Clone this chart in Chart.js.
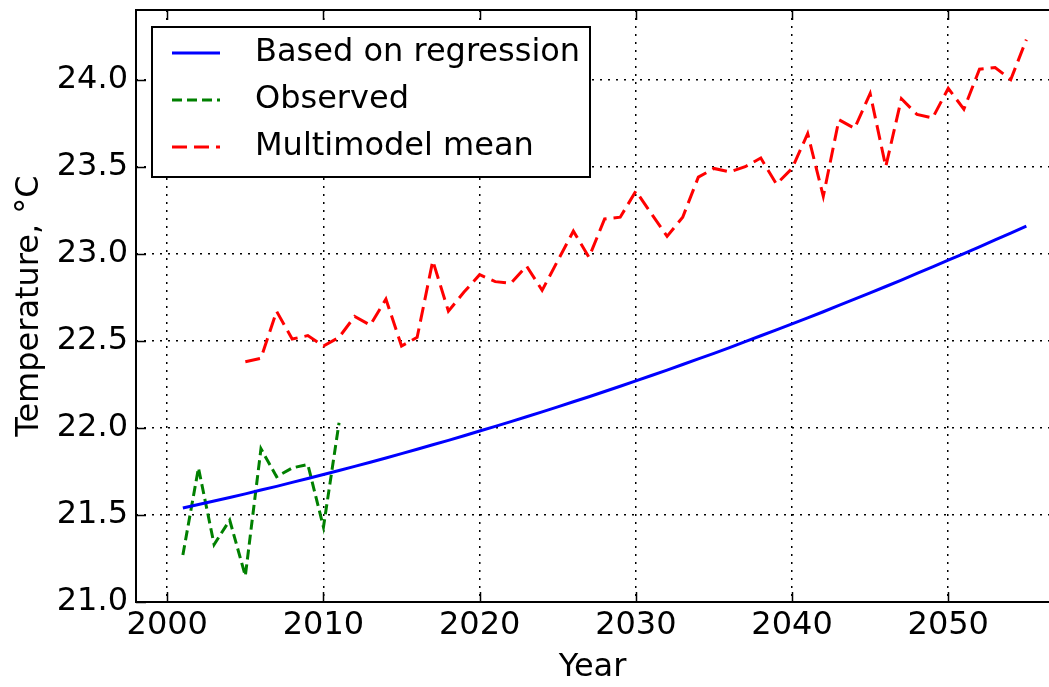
<!DOCTYPE html>
<html>
<head>
<meta charset="utf-8">
<script src="https://cdn.jsdelivr.net/npm/chart.js@4.4.1/dist/chart.umd.min.js"></script>
<style>
  html, body { margin: 0; padding: 0; background: #fff; }
  #wrap { width: 1049px; height: 687px; }
</style>
</head>
<body>
<div id="wrap"><canvas id="chart"></canvas></div>
<script>
// Year ticks and temperature ticks
const xTicks = [2000, 2010, 2020, 2030, 2040, 2050];
const yTicks = [21.0, 21.5, 22.0, 22.5, 23.0, 23.5, 24.0];

// Regression curve, 2001-2055
const regStart = 2001;
const regValues = [
    21.540, 21.560, 21.580, 21.600, 21.621, 21.643, 21.664, 21.687, 21.709, 21.732,
    21.755, 21.779, 21.803, 21.827, 21.852, 21.877, 21.903, 21.928, 21.955, 21.982,
    22.009, 22.036, 22.064, 22.092, 22.121, 22.150, 22.179, 22.209, 22.239, 22.270,
    22.301, 22.332, 22.364, 22.396, 22.428, 22.461, 22.495, 22.529, 22.563, 22.597,
    22.632, 22.667, 22.703, 22.739, 22.775, 22.812, 22.849, 22.887, 22.925, 22.963,
    23.001, 23.040, 23.080, 23.119, 23.159
];

// Observed, 2001-2011
const obsStart = 2001;
const obsValues = [21.27, 21.77, 21.33, 21.47, 21.15, 21.88, 21.72, 21.77, 21.79, 21.43, 22.03];

// Multimodel mean, 2005-2055
const mmmStart = 2005;
const mmmValues = [
    22.38, 22.40, 22.67, 22.51, 22.53, 22.47, 22.52, 22.64, 22.59, 22.74,
    22.47, 22.52, 22.96, 22.67, 22.78, 22.88, 22.84, 22.83, 22.93, 22.79,
    22.96, 23.13, 22.98, 23.20, 23.21, 23.36, 23.23, 23.10, 23.21, 23.44,
    23.49, 23.47, 23.50, 23.55, 23.40, 23.49, 23.69, 23.33, 23.77, 23.72,
    23.92, 23.50, 23.89, 23.80, 23.78, 23.95, 23.83, 24.06, 24.07, 24.00,
    24.23
];

const toPoints = (start, values) => values.map((v, i) => ({ x: start + i, y: v }));

const FONT = '"DejaVu Sans", sans-serif';

// inward ticks + frame like the old matplotlib style
const frameTicks = {
    id: 'frameTicks',
    afterDraw(chart) {
        const { ctx, chartArea: a, scales: { x, y } } = chart;
        ctx.save();
        ctx.strokeStyle = '#000';
        ctx.lineWidth = 1.5;
        ctx.beginPath();
        xTicks.forEach(v => {
            const px = Math.round(x.getPixelForValue(v)) + 0.5;
            ctx.moveTo(px, a.bottom); ctx.lineTo(px, a.bottom - 10);
            ctx.moveTo(px, a.top); ctx.lineTo(px, a.top + 10);
        });
        yTicks.forEach(v => {
            const py = Math.round(y.getPixelForValue(v)) + 0.5;
            ctx.moveTo(a.left, py); ctx.lineTo(a.left + 10, py);
        });
        ctx.stroke();

        ctx.lineWidth = 2;
        ctx.beginPath();
        ctx.moveTo(a.right + 2, a.top);
        ctx.lineTo(a.left, a.top);
        ctx.lineTo(a.left, a.bottom);
        ctx.lineTo(a.right + 2, a.bottom);
        ctx.stroke();
        ctx.restore();
    }
};

// legend box in the upper left of the plot
const boxLegend = {
    id: 'boxLegend',
    afterDraw(chart) {
        const ctx = chart.ctx;
        ctx.save();
        ctx.fillStyle = '#fff';
        ctx.fillRect(152, 27, 438, 150);
        ctx.strokeStyle = '#000';
        ctx.lineWidth = 2;
        ctx.strokeRect(152, 27, 438, 150);
        chart.data.datasets.forEach((ds, i) => {
            const yy = 53 + i * 47;
            ctx.strokeStyle = ds.borderColor;
            ctx.lineWidth = ds.borderWidth;
            ctx.setLineDash(ds.borderDash || []);
            ctx.beginPath();
            ctx.moveTo(172, yy);
            ctx.lineTo(220, yy);
            ctx.stroke();
            ctx.setLineDash([]);
            ctx.fillStyle = '#000';
            ctx.font = '32px ' + FONT;
            ctx.textBaseline = 'middle';
            ctx.fillText(ds.label, 255, yy);
        });
        ctx.restore();
    }
};

Chart.defaults.font.family = FONT;
Chart.defaults.font.size = 32;
Chart.defaults.color = '#000';

new Chart(document.getElementById('chart'), {
    type: 'line',
    data: {
        datasets: [
            {
                label: 'Based on regression',
                data: toPoints(regStart, regValues),
                borderColor: '#0000ff',
                borderWidth: 3,
                pointRadius: 0,
                tension: 0
            },
            {
                label: 'Observed',
                data: toPoints(obsStart, obsValues),
                borderColor: '#008000',
                borderWidth: 3,
                borderDash: [10, 5],
                pointRadius: 0,
                tension: 0
            },
            {
                label: 'Multimodel mean',
                data: toPoints(mmmStart, mmmValues),
                borderColor: '#ff0000',
                borderWidth: 3,
                borderDash: [15, 7],
                pointRadius: 0,
                tension: 0
            }
        ]
    },
    options: {
        responsive: true,
        maintainAspectRatio: false,
        animation: false,
        layout: { padding: { top: 10, right: 0, left: 0, bottom: 0 } },
        plugins: {
            legend: { display: false },
            tooltip: { enabled: false }
        },
        scales: {
            x: {
                type: 'linear',
                min: 1998,
                max: 2056.45,
                afterBuildTicks: s => { s.ticks = xTicks.map(v => ({ value: v })); },
                afterFit: s => { s.height = 85; s.paddingLeft = 0; s.paddingRight = 0; },
                ticks: {
                    padding: 4,
                    maxRotation: 0,
                    callback: v => String(v)
                },
                grid: { color: '#000', lineWidth: 1.5, drawTicks: false },
                border: { display: false, dash: [2, 6] },
                title: { display: true, text: 'Year', padding: { top: 0, bottom: 0 } }
            },
            y: {
                min: 21.0,
                max: 24.4,
                afterBuildTicks: s => { s.ticks = yTicks.map(v => ({ value: v })); },
                afterFit: s => { s.width = 136; s.paddingTop = 0; s.paddingBottom = 0; },
                ticks: {
                    padding: 8,
                    callback: v => Number(v).toFixed(1)
                },
                grid: { color: '#000', lineWidth: 1.5, drawTicks: false },
                border: { display: false, dash: [2, 6] },
                title: { display: true, text: 'Temperature, °C', padding: { top: 10, bottom: 0 } }
            }
        }
    },
    plugins: [frameTicks, boxLegend]
});
</script>
</body>
</html>
